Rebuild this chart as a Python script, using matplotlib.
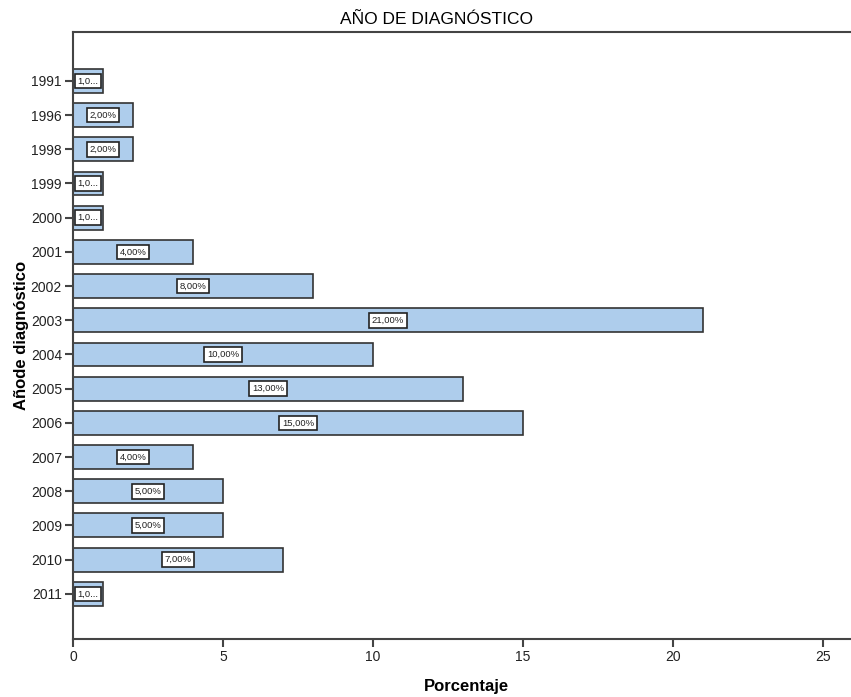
import numpy as np
import matplotlib.pyplot as plt

plt.rcParams['font.family'] = ['Liberation Sans', 'DejaVu Sans']

years = ['1991', '1996', '1998', '1999', '2000', '2001', '2002', '2003',
         '2004', '2005', '2006', '2007', '2008', '2009', '2010', '2011']
percent = [1, 2, 2, 1, 1, 4, 8, 21, 10, 13, 15, 4, 5, 5, 7, 1]
labels = ['1,0...', '2,00%', '2,00%', '1,0...', '1,0...', '4,00%', '8,00%', '21,00%',
          '10,00%', '13,00%', '15,00%', '4,00%', '5,00%', '5,00%', '7,00%', '1,0...']

bar_color = '#aecdec'
edge_color = '#333333'

fig = plt.figure(figsize=(8.51, 6.97), dpi=100)
ax = fig.add_axes([73/851, 58/697, 1 - 73/851 + 0.01, (639-32)/697])

pos = np.arange(len(years))
ax.barh(pos, percent, height=0.7, color=bar_color, edgecolor=edge_color, linewidth=1.2)

for p, v, lab in zip(pos, percent, labels):
    ax.text(v / 2, p, lab, ha='center', va='center', fontsize=6.8, color='#222222',
            bbox=dict(boxstyle='square,pad=0.3', facecolor='white', edgecolor='#222222', linewidth=1.2))

ax.set_yticks(pos)
ax.set_yticklabels(years)
ax.set_ylim(15 + 1.32, -1.43)
ax.set_xlim(0, 25.93 + 0.3)
ax.set_xticks([0, 5, 10, 15, 20, 25])

for s in ['left', 'top', 'bottom']:
    ax.spines[s].set_linewidth(1.5)
    ax.spines[s].set_color('#444444')
ax.spines['right'].set_visible(False)

ax.tick_params(axis='both', direction='out', length=6, width=1.5, color='#444444',
               labelsize=10, labelcolor='#222222', pad=2)

ax.set_xlabel('Porcentaje', fontsize=12, fontweight='bold', labelpad=11)
ax.set_ylabel('Añode diagnóstico', fontsize=12, fontweight='bold', labelpad=1)

fig.text(437/851, 1 - 19/697, 'AÑO DE DIAGNÓSTICO', ha='center', va='center', fontsize=12.5)

fig.savefig('out.png', dpi=100)
